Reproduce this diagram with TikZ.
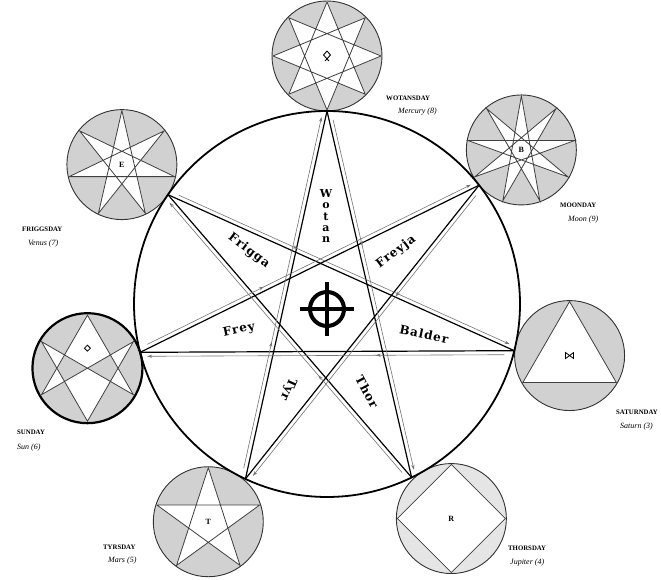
\documentclass[tikz,border=0pt]{standalone}
\usepackage{fontspec}
\setmainfont{Liberation Serif}
\newfontfamily\slab{DejaVu Serif}[LetterSpace=8]
\usetikzlibrary{calc,arrows.meta,decorations.markings}
\newcommand\starpoly[5]{%
  \path[starline] ($(#1)+(90:#4)$) \foreach \i in {1,...,#5} { -- ($(#1)+({90+\i*#3*360/#2}:#4)$) } -- cycle;}
\newcommand\flowline[2]{%
  \draw[flow] ($(#1)!10pt!(#2)!4pt!90:(#2)$) -- ($(#2)!7pt!(#1)!4pt!-90:(#1)$);}
\begin{document}
\begin{tikzpicture}[x=1pt,y=1pt,
  daycirc/.style={circle,draw=black!80,line width=0.9pt,fill=black!18,minimum size=110pt,inner sep=0pt},
  starline/.style={draw=black!75,line width=0.8pt,fill=white,line join=miter},
  chord/.style={black,line width=1.2pt},
  flow/.style={black!55,line width=0.6pt,-{Stealth[length=5pt,width=3.2pt]},
    postaction={decorate},
    decoration={markings,mark=at position 0.36 with {\arrow{Stealth[length=5pt,width=3.2pt]}}}},
  godname/.style={font=\slab\bfseries\fontsize{12}{12}\selectfont,inner sep=0pt},
  dayname/.style={font=\bfseries\fontsize{6.8}{8}\selectfont,anchor=base west,inner sep=0pt},
  planet/.style={font=\itshape\fontsize{8}{9}\selectfont,anchor=base west,inner sep=0pt},
  rune/.style={black,line width=0.9pt},
  runetext/.style={font=\bfseries\fontsize{8}{8}\selectfont,inner sep=0pt}
]
\useasboundingbox (0,0) rectangle (661,580);
\coordinate (C) at (327,276);
% outer day circles
\node[daycirc] (cW) at ($(C)+(90:248)$) {};
\node[daycirc] (cM) at ($(C)+(38.4:248)$) {};
\node[daycirc] (cSa) at ($(C)+(-12:248)$) {};
\node[daycirc,fill=black!10] (cTh) at ($(C)+(-59.9:248)$) {};
\node[daycirc] (cTy) at ($(C)+(-118.6:248)$) {};
\node[daycirc,draw=black,line width=2.2pt] (cSu) at ($(C)+(195:248)$) {};
\node[daycirc] (cF) at ($(C)+(145.8:248)$) {};
% stars inside
\starpoly{cW}{8}{3}{54}{7}
\starpoly{cM}{9}{4}{54}{8}
\starpoly{cSa}{3}{1}{54}{2}
\starpoly{cTh}{4}{1}{54}{3}
\starpoly{cTy}{5}{2}{54}{4}
\starpoly{cF}{7}{3}{54}{6}
\path[starline] ($(cSu)+(90:53)$) -- ($(cSu)+(210:53)$) -- ($(cSu)+(30:53)$) -- ($(cSu)+(270:53)$) -- ($(cSu)+(150:53)$) -- ($(cSu)+(330:53)$) -- cycle;
% rune symbols
\draw[rune] ($(cW)+(0,5)$) -- ($(cW)+(3.5,1)$) -- ($(cW)+(-2,-5)$);
\draw[rune] ($(cW)+(0,5)$) -- ($(cW)+(-3.5,1)$) -- ($(cW)+(2,-5)$);
\node[runetext] (sM) at (cM) {B};
\draw[rune,line width=0.8pt] ($(cSa)+(-4,3)$) -- ($(cSa)+(4,-3)$) -- ($(cSa)+(4,3)$) -- ($(cSa)+(-4,-3)$) -- cycle;
\node[runetext] (sTh) at (cTh) {R};
\node[runetext] (sTy) at (cTy) {T};
\draw[rune,line width=0.8pt] ($(cSu)+(0,23)$) -- ($(cSu)+(3,20)$) -- ($(cSu)+(0,17)$) -- ($(cSu)+(-3,20)$) -- cycle;
\node[runetext] (sF) at (cF) {E};
% main circle
\node[circle,draw=black,line width=1.8pt,minimum size=386pt,inner sep=0pt] (main) at (C) {};
% heptagram vertices
\coordinate (vW) at ($(C)+(90:193)$);
\coordinate (vM) at ($(C)+(38:193)$);
\coordinate (vSa) at ($(C)+(-14:193)$);
\coordinate (vTh) at ($(C)+(-64:193)$);
\coordinate (vTy) at ($(C)+(-115:193)$);
\coordinate (vSu) at ($(C)+(194.5:193)$);
\coordinate (vF) at ($(C)+(145.5:193)$);
% chords
\draw[chord] (vF) -- (vSa);
\draw[chord] (vSa) -- (vSu);
\draw[chord] (vSu) -- (vM);
\draw[chord] (vM) -- (vTy);
\draw[chord] (vTy) -- (vW);
\draw[chord] (vW) -- (vTh);
\draw[chord] (vTh) -- (vF);
% flow arrows
\flowline{vF}{vSa}
\flowline{vSa}{vSu}
\flowline{vSu}{vM}
\flowline{vM}{vTy}
\flowline{vTy}{vW}
\flowline{vW}{vTh}
\flowline{vTh}{vF}
% centre cross
\node[circle,draw=black,line width=4pt,minimum size=34pt,inner sep=0pt] (cross) at (327,271) {};
\draw[line width=4pt] ($(cross.center)+(-27,0)$) -- ($(cross.center)+(27,0)$);
\draw[line width=4pt] ($(cross.center)+(0,-27)$) -- ($(cross.center)+(0,27)$);
% god names
\node[inner sep=0pt,align=center,font=\slab\bfseries\fontsize{11}{11.2}\selectfont] (nWotan) at (326,364) {W\\o\\t\\a\\n};
\node[godname,rotate=-37] (nFrigga) at (249,329) {Frigga};
\node[godname,rotate=37] (nFreyja) at (396,328) {Freyja};
\node[godname,rotate=12] (nFrey) at (239,250) {Frey};
\node[godname,rotate=-12] (nBalder) at (424,246) {Balder};
\node[godname,rotate=-114] (nTyr) at (288,191) {Tyr};
\node[godname,rotate=-62] (nThor) at (367,188) {Thor};
% day labels
\node[dayname] (lW) at (386,479) {WOTANSDAY};
\node[planet] (pW) at (398,466) {Mercury (8)};
\node[dayname] (lM) at (560,372) {MOONDAY};
\node[planet] (pM) at (568,358) {Moon (9)};
\node[dayname] (lSa) at (616,165) {SATURNDAY};
\node[planet] (pSa) at (620,151) {Saturn (3)};
\node[dayname] (lTh) at (508,29) {THORSDAY};
\node[planet] (pTh) at (510,15) {Jupiter (4)};
\node[dayname] (lTy) at (103,30) {TYRSDAY};
\node[planet] (pTy) at (108,17) {Mars (5)};
\node[dayname] (lSu) at (17,145) {SUNDAY};
\node[planet] (pSu) at (17,130) {Sun (6)};
\node[dayname] (lF) at (22,348) {FRIGGSDAY};
\node[planet] (pF) at (28,334) {Venus (7)};
\end{tikzpicture}
\end{document}
